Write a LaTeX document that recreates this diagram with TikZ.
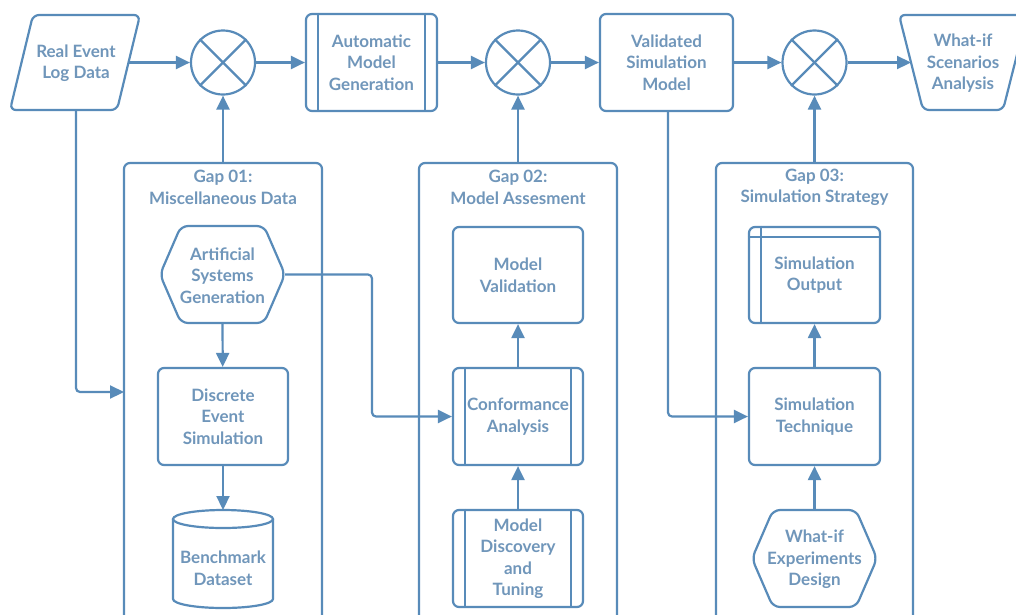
\documentclass[tikz,border=0pt]{standalone}
\usepackage{fontspec}
\setmainfont{Lato}
\usetikzlibrary{arrows.meta}
\definecolor{linec}{RGB}{88,139,185}
\definecolor{textc}{RGB}{112,150,186}
\begin{document}
\begin{tikzpicture}[x=1pt,y=-1pt,
  ln/.style={draw=linec, line width=2.2pt},
  arr/.style={ln, -{Triangle[length=14pt,width=13pt]}, rounded corners=4pt},
  txt/.style={text=textc, font=\bfseries\fontsize{17}{21.5}\selectfont, align=center},
  box/.style={txt, ln, rounded corners=6pt, minimum width=131pt, minimum height=97pt, inner sep=0pt},
  plain/.style={txt, inner sep=0pt, yshift=-1pt},
  mix/.style={ln, circle, minimum size=64pt, inner sep=0pt},
]
\useasboundingbox (0,0) rectangle (1016,614);
\fill[white] (0,0) rectangle (1016,614);

% ---------- top row ----------
\draw[ln, rounded corners=6pt] (33,15) -- (140,15) -- (117,110) -- (10,110) -- cycle;
\node[plain] (rel) at (76,62) {Real Event\\Log Data};
\coordinate (relR) at (128.5,62.5);
\coordinate (relB) at (76,110);

\node[mix] (c1) at (223,62.5) {};
\draw[ln] (c1.45) -- (c1.225); \draw[ln] (c1.135) -- (c1.315);

\node[box] (amg) at (371.5,62.5) {\raisebox{-1pt}{\parbox{131pt}{\centering Automatic\\Model\\Generation}}};
\draw[ln] ([xshift=13pt]amg.north west) -- ([xshift=13pt]amg.south west);
\draw[ln] ([xshift=-13pt]amg.north east) -- ([xshift=-13pt]amg.south east);

\node[mix] (c2) at (518,62.5) {};
\draw[ln] (c2.45) -- (c2.225); \draw[ln] (c2.135) -- (c2.315);

\node[box, minimum width=133pt] (vsm) at (666.5,62.5) {Validated\\Simulation\\Model};
\coordinate (vsmB) at (668,110);

\node[mix] (c3) at (814.5,62.5) {};
\draw[ln] (c3.45) -- (c3.225); \draw[ln] (c3.135) -- (c3.315);

\draw[ln, rounded corners=6pt] (899,15) -- (1027,15) -- (1003,110) -- (923,110) -- cycle;
\node[plain] (wsa) at (963,62.5) {What-if\\Scenarios\\Analysis};
\coordinate (wsaL) at (911,62.5);

\draw[arr] (relR) -- (c1);
\draw[arr] (c1) -- (amg);
\draw[arr] (amg) -- (c2);
\draw[arr] (c2) -- (vsm);
\draw[arr] (vsm) -- (c3);
\draw[arr] (c3) -- (wsaL);

% ---------- gap containers ----------
\draw[ln, rounded corners=6pt] (124,640) -- (124,163) -- (322,163) -- (322,640);
\node[plain] (g1) at (223,186.5) {Gap 01:\\Miscellaneous Data};
\coordinate (g1T) at (223,163);
\coordinate (g1L) at (124,392);

\draw[ln, rounded corners=6pt] (419,640) -- (419,163) -- (617,163) -- (617,640);
\node[plain] (g2) at (518,186.5) {Gap 02:\\Model Assesment};
\coordinate (g2T) at (518,163);

\draw[ln, rounded corners=6pt] (716,640) -- (716,163) -- (913,163) -- (913,640);
\node[plain] (g3) at (814.5,186.5) {Gap 03:\\Simulation Strategy};
\coordinate (g3T) at (814.5,163);

\draw[arr] (g1T) -- (c1);
\draw[arr] (g2T) -- (c2);
\draw[arr] (g3T) -- (c3);

% ---------- Gap 01 ----------
\draw[ln, rounded corners=7pt] (160,274.5) -- (181,226) -- (264,226) -- (285,274.5) -- (264,323) -- (181,323) -- cycle;
\node[plain] (asg) at (222.5,274.5) {Artificial\\Systems\\Generation};
\coordinate (asgR) at (285,274.5);
\coordinate (asgB) at (222.5,323);

\node[box, minimum width=130pt] (des) at (223,416.5) {Discrete\\Event\\Simulation};

\draw[ln] (173,519) -- (173,599) arc[start angle=180, end angle=0, x radius=50, y radius=9] -- (273,519);
\draw[ln] (223,519) ellipse[x radius=50, y radius=9];
\node[plain] (bd) at (223,567) {Benchmark\\Dataset};
\coordinate (bdT) at (223,510);

\draw[arr] (asgB) -- (des);
\draw[arr] (des) -- (bdT);
\draw[arr] (relB) |- (g1L);

% ---------- Gap 02 ----------
\node[box, minimum width=130pt, minimum height=96pt] (mv) at (518,275) {Model\\Validation};
\node[box, minimum width=130pt] (ca) at (518,416.5) {Conformance\\Analysis};
\draw[ln] ([xshift=13pt]ca.north west) -- ([xshift=13pt]ca.south west);
\draw[ln] ([xshift=-13pt]ca.north east) -- ([xshift=-13pt]ca.south east);
\node[box, minimum width=130pt] (mdt) at (518,558.5) {Model\\Discovery\\and\\Tuning};
\draw[ln] ([xshift=13pt]mdt.north west) -- ([xshift=13pt]mdt.south west);
\draw[ln] ([xshift=-13pt]mdt.north east) -- ([xshift=-13pt]mdt.south east);

\draw[arr] (ca) -- (mv);
\draw[arr] (mdt) -- (ca);
\draw[arr] (asgR) -- (372,274.5) |- (ca.west);

% ---------- Gap 03 ----------
\node[box, minimum height=96pt] (so) at (814.5,275) {Simulation\\Output};
\draw[ln] ([yshift=-11pt]so.north west) -- ([yshift=-11pt]so.north east);
\draw[ln] ([xshift=13pt]so.north west) -- ([xshift=13pt]so.south west);
\node[box] (st) at (814.5,416.5) {Simulation\\Technique};
\draw[ln, rounded corners=7pt] (752,558.5) -- (773,510) -- (856,510) -- (877,558.5) -- (856,607) -- (773,607) -- cycle;
\node[plain] (wed) at (814.5,558.5) {What-if\\Experiments\\Design};
\coordinate (wedT) at (814.5,510);

\draw[arr] (wedT) -- (st);
\draw[arr] (st) -- (so);
\draw[arr] (vsmB) |- (st.west);
\end{tikzpicture}
\end{document}
